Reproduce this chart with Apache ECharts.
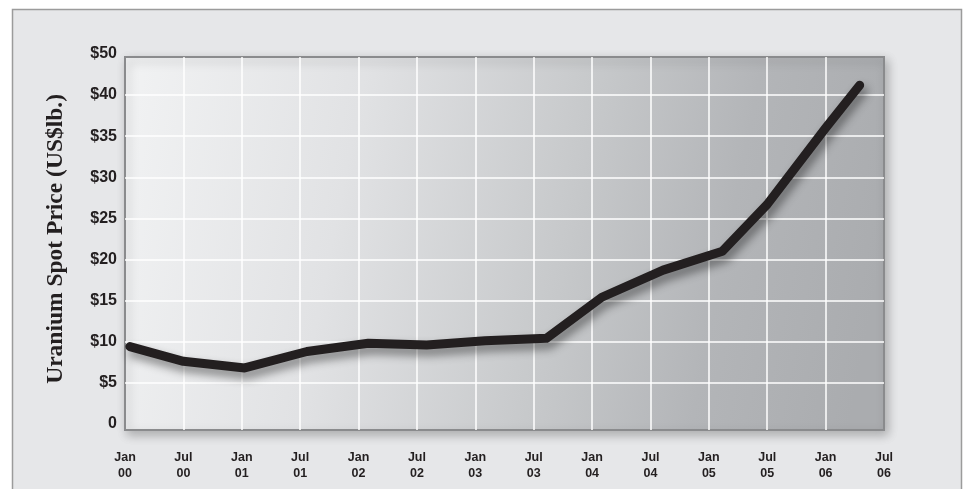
<!DOCTYPE html>
<html>
<head>
<meta charset="utf-8">
<script src="https://cdn.jsdelivr.net/npm/echarts@6/dist/echarts.min.js"></script>
<style>
html,body{margin:0;padding:0;background:#fff;}
#chart{width:964px;height:489px;}
</style>
</head>
<body>
<div id="chart"></div>
<script>
// Months since Jan 2000 and uranium spot price (US$/lb)
const months = [0.5, 6, 12.3, 18.7, 25, 31, 37, 43.3, 49, 55.3, 61.4, 66, 72, 75.5];
const prices = [9.4, 7.6, 6.8, 8.8, 9.8, 9.6, 10.1, 10.4, 15.4, 18.7, 21.0, 26.7, 36.0, 41.2];
const yTickLabels = {0: '0', 5: '$5', 10: '$10', 15: '$15', 20: '$20', 25: '$25', 30: '$30', 35: '$35', 40: '$40', 45: '$50'};
const xTickLabels = ['Jan\n00','Jul\n00','Jan\n01','Jul\n01','Jan\n02','Jul\n02','Jan\n03','Jul\n03','Jan\n04','Jul\n04','Jan\n05','Jul\n05','Jan\n06','Jul\n06'];
const yTitle = 'Uranium Spot Price (US$lb.)';

const chart = echarts.init(document.getElementById('chart'));
const ink = '#231f20';
chart.setOption({
  backgroundColor: 'transparent',
  animation: false,
  graphic: [{
    type: 'rect', z: -10, silent: true,
    shape: {x: 12.5, y: 9.5, width: 949, height: 500},
    style: {fill: '#e6e7e9', stroke: '#9b9b9b', lineWidth: 1.5}
  }],
  grid: [
    { // plot frame
      left: 125, right: 80, top: 57, bottom: 59, z: -1,
      show: true, borderColor: '#8a8b8d', borderWidth: 2,
      backgroundColor: {type: 'linear', x: 0, y: 0.1, x2: 1, y2: 0.5, colorStops: [
        {offset: 0, color: '#f1f2f3'},
        {offset: 0.3, color: '#e1e2e4'},
        {offset: 0.6, color: '#c6c8ca'},
        {offset: 0.8, color: '#b3b5b8'},
        {offset: 1, color: '#aaacaf'}
      ]},
      shadowBlur: 10, shadowColor: 'rgba(0,0,0,0.25)', shadowOffsetX: 3, shadowOffsetY: 4
    },
    { // data area
      left: 125, right: 80, top: 54, bottom: 65.2
    }
  ],
  xAxis: [
    {
      gridIndex: 0, type: 'value', min: 0, max: 78, interval: 6,
      axisLine: {show: false}, axisTick: {show: false}, axisLabel: {show: false},
      splitLine: {show: true, showMinLine: false, showMaxLine: false, lineStyle: {color: '#ffffff', width: 1.5}}
    },
    {
      gridIndex: 1, type: 'value', min: 0, max: 78, interval: 6,
      axisLine: {show: false}, axisTick: {show: false}, splitLine: {show: false},
      axisLabel: {
        show: true, margin: 26, color: ink, fontFamily: 'Liberation Sans, Arial, sans-serif',
        fontWeight: 'bold', fontSize: 12.5, lineHeight: 15.5,
        formatter: v => xTickLabels[Math.round(v / 6)]
      }
    }
  ],
  yAxis: [
    {gridIndex: 0, type: 'value', min: 0, max: 10, show: false, splitLine: {show: false}},
    {
      gridIndex: 1, type: 'value', min: 0, max: 45, interval: 5,
      axisLine: {show: false}, axisTick: {show: false},
      splitLine: {show: true, showMinLine: false, showMaxLine: false, lineStyle: {color: '#ffffff', width: 1.5}},
      axisLabel: {
        margin: 8, color: ink, fontFamily: 'Liberation Sans, Arial, sans-serif',
        fontWeight: 'bold', fontSize: 16,
        formatter: v => yTickLabels[v]
      },
      name: yTitle, nameLocation: 'middle', nameGap: 57, nameRotate: 90,
      nameTextStyle: {color: ink, fontFamily: 'Liberation Serif, Times New Roman, serif', fontWeight: 'bold', fontSize: 23.5}
    }
  ],
  series: [{
    type: 'line', xAxisIndex: 1, yAxisIndex: 1,
    data: months.map((m, i) => [m, prices[i]]),
    showSymbol: false, symbol: 'none', clip: false,
    lineStyle: {color: ink, width: 9, cap: 'round', join: 'round',
      shadowBlur: 10, shadowColor: 'rgba(0,0,0,0.45)', shadowOffsetX: 3, shadowOffsetY: 6}
  }]
});
</script>
</body>
</html>
